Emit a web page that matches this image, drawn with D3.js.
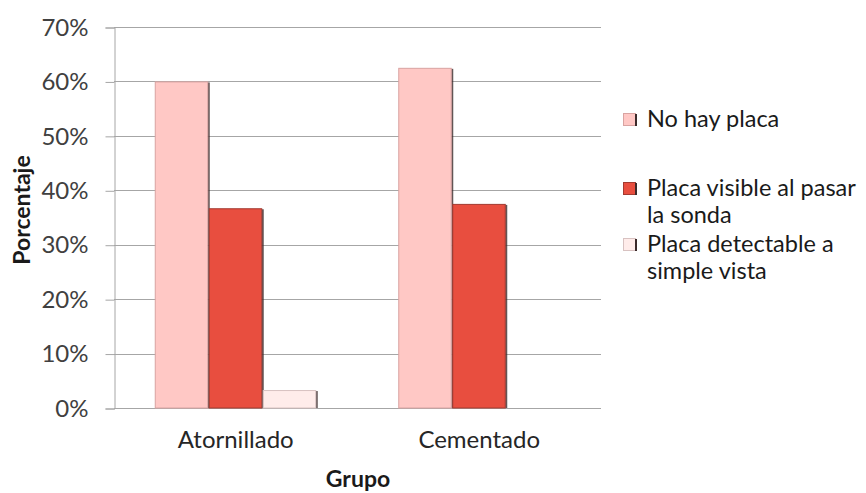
<!DOCTYPE html>
<html>
<head>
<meta charset="utf-8">
<script src="https://cdn.jsdelivr.net/npm/d3@7"></script>
<style>
  body { margin: 0; background: #fff; }
  svg { font-family: Lato, "Noto Sans", sans-serif; }
</style>
</head>
<body>
<div class="chart"></div>
<script>
// data
const groups = ["Atornillado", "Cementado"];
const seriesNames = ["No hay placa", "Placa visible al pasar la sonda", "Placa detectable a simple vista"];
const noHayPlaca = [0.60, 0.625];
const placaVisible = [0.367, 0.375];
const placaDetectable = [0.033, 0];
const yTicks = [0, 0.1, 0.2, 0.3, 0.4, 0.5, 0.6, 0.7];

const fills = ["#ffc8c5", "#e84e3f", "#ffecea"];
const strokes = ["#d9a3a1", "#a33a30", "#d8c2c1"];
const legendLines = [["No hay placa"], ["Placa visible al pasar", "la sonda"], ["Placa detectable a", "simple vista"]];

const width = 866, height = 493;
const plot = { left: 114, right: 601, top: 27, bottom: 408 };
const fontSize = "24px";

const svg = d3.select(".chart").append("svg")
    .attr("width", width)
    .attr("height", height);

const x0 = d3.scaleBand()
    .domain(groups)
    .range([plot.left, plot.right]);

const x1 = d3.scaleBand()
    .domain(seriesNames)
    .range([0, 162]);

const y = d3.scaleLinear()
    .domain([0, 0.7])
    .range([plot.bottom, plot.top]);

// gridlines
svg.append("g")
    .selectAll("line")
    .data(yTicks.slice(1))
    .join("line")
    .attr("x1", plot.left)
    .attr("x2", plot.right)
    .attr("y1", d => Math.round(y(d)) + 0.5)
    .attr("y2", d => Math.round(y(d)) + 0.5)
    .attr("stroke", "#a6a6a6")
    .attr("stroke-width", 1);

// y axis
const yAxis = svg.append("g")
    .attr("transform", `translate(${plot.left + 0.5},0.5)`)
    .call(d3.axisLeft(y).tickValues(yTicks).tickFormat(d3.format(".0%")).tickSize(9).tickPadding(17));
yAxis.select(".domain").attr("stroke", "#a6a6a6");
yAxis.selectAll(".tick line").attr("stroke", "#a6a6a6");
yAxis.selectAll("text").attr("fill", "#404040").style("font-size", fontSize).style("font-family", "Lato, sans-serif");

// x baseline
svg.append("line")
    .attr("x1", plot.left)
    .attr("x2", plot.right)
    .attr("y1", plot.bottom + 0.5)
    .attr("y2", plot.bottom + 0.5)
    .attr("stroke", "#a6a6a6");

const table = groups.map((g, i) => ({
    group: g,
    values: [noHayPlaca[i], placaVisible[i], placaDetectable[i]]
}));

const gGroups = svg.append("g")
    .selectAll("g")
    .data(table)
    .join("g")
    .attr("transform", d => `translate(${x0(d.group) + (x0.bandwidth() - 162) / 2},0)`);

gGroups.selectAll("g.bar")
    .data(d => d.values.map((v, k) => ({ v, k })).filter(e => e.v > 0))
    .join("g")
    .attr("class", "bar")
    .each(function(d) {
        const g = d3.select(this);
        const bx = x1(seriesNames[d.k]);
        const bw = x1.bandwidth();
        // dark right-edge shadow
        g.append("rect")
            .attr("x", bx + bw - 1)
            .attr("y", y(d.v) + 1)
            .attr("width", 2)
            .attr("height", plot.bottom - y(d.v) - 1)
            .attr("fill", "#3b2a2a")
            .attr("opacity", 0.8);
        g.append("rect")
            .attr("x", bx + 0.5)
            .attr("y", y(d.v) + 0.5)
            .attr("width", bw - 1.5)
            .attr("height", plot.bottom - y(d.v) - 0.5)
            .attr("fill", fills[d.k])
            .attr("stroke", strokes[d.k])
            .attr("stroke-width", 1);
    });

// x category labels
svg.append("g")
    .selectAll("text")
    .data(groups)
    .join("text")
    .attr("x", d => x0(d) + x0.bandwidth() / 2)
    .attr("y", 448)
    .attr("text-anchor", "middle")
    .attr("fill", "#262626")
    .style("font-size", fontSize)
    .text(d => d);

// axis titles
svg.append("text")
    .attr("x", 358)
    .attr("y", 487)
    .attr("text-anchor", "middle")
    .attr("fill", "#1a1a1a")
    .style("font-size", "23px")
    .style("font-weight", "bold")
    .text("Grupo");

svg.append("text")
    .attr("transform", "translate(30,210) rotate(-90)")
    .attr("text-anchor", "middle")
    .attr("fill", "#1a1a1a")
    .style("font-size", "23px")
    .style("font-weight", "bold")
    .text("Porcentaje");

// legend
const legendY = [127, 196, 252];
const legend = svg.append("g")
    .selectAll("g")
    .data(seriesNames)
    .join("g")
    .attr("transform", (d, i) => `translate(623,${legendY[i]})`);

legend.append("rect")
    .attr("x", 0.5)
    .attr("y", -13.5)
    .attr("width", 12)
    .attr("height", 12)
    .attr("fill", (d, i) => fills[i])
    .attr("stroke", (d, i) => strokes[i]);

legend.append("rect")
    .attr("x", 12)
    .attr("y", -13)
    .attr("width", 2)
    .attr("height", 12)
    .attr("fill", "#3b2a2a");

legend.each(function(d, i) {
    const t = d3.select(this).append("text")
        .attr("x", 24)
        .attr("y", 0)
        .attr("fill", "#1a1a1a")
        .style("font-size", "23.5px");
    legendLines[i].forEach((line, j) => {
        t.append("tspan")
            .attr("x", 24)
            .attr("dy", j === 0 ? 0 : 27)
            .text(line);
    });
});
</script>
</body>
</html>
